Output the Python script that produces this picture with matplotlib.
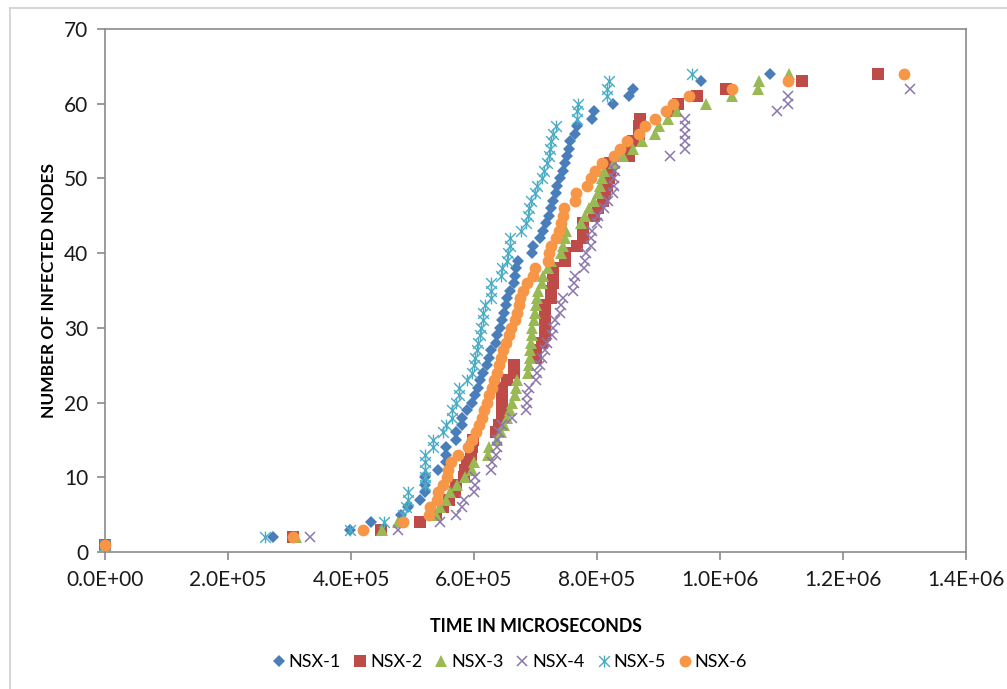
import numpy as np
import matplotlib

matplotlib.use('Agg')
import matplotlib.pyplot as plt
from matplotlib.path import Path
from matplotlib.lines import Line2D
from matplotlib.ticker import FuncFormatter, MultipleLocator

plt.rcParams['font.family'] = ['Lato', 'DejaVu Sans']

# time of infection, in units of 1e5 microseconds; node count = 1, 2, 3, ...
nsx1_t = [0, 2.73, 3.98, 4.32, 4.82, 4.92, 5.13, 5.21, 5.21, 5.21,
          5.42, 5.55, 5.55, 5.55, 5.71, 5.71, 5.81, 5.81, 5.89, 5.97,
          6.02, 6.07, 6.10, 6.14, 6.21, 6.25, 6.28, 6.35, 6.38, 6.42,
          6.46, 6.49, 6.52, 6.54, 6.59, 6.65, 6.67, 6.69, 6.71, 6.94,
          6.96, 7.08, 7.12, 7.17, 7.22, 7.25, 7.29, 7.33, 7.35, 7.40,
          7.44, 7.48, 7.52, 7.54, 7.56, 7.64, 7.67, 7.92, 7.95, 8.26,
          8.52, 8.58, 9.69, 10.82]
nsx2_t = [0, 3.05, 4.49, 5.13, 5.39, 5.50, 5.60, 5.69, 5.71, 5.83,
          5.86, 5.89, 5.95, 5.97, 5.99, 6.36, 6.41, 6.46, 6.46, 6.46,
          6.46, 6.46, 6.54, 6.65, 6.65, 7.01, 7.01, 7.11, 7.15, 7.15,
          7.15, 7.15, 7.15, 7.25, 7.25, 7.29, 7.29, 7.29, 7.48, 7.48,
          7.67, 7.77, 7.77, 7.77, 7.95, 8.02, 8.09, 8.13, 8.16, 8.19,
          8.21, 8.21, 8.52, 8.52, 8.58, 8.68, 8.68, 8.70, 9.25, 9.32,
          9.62, 10.09, 11.34, 12.57]
nsx3_t = [0, 3.10, 4.51, 4.77, 5.39, 5.45, 5.55, 5.61, 5.73, 5.86,
          5.97, 6.00, 6.23, 6.25, 6.38, 6.44, 6.49, 6.54, 6.58, 6.62,
          6.66, 6.68, 6.70, 6.88, 6.90, 6.91, 6.91, 6.92, 6.94, 6.95,
          6.98, 6.99, 7.01, 7.02, 7.04, 7.11, 7.12, 7.20, 7.25, 7.42,
          7.45, 7.48, 7.50, 7.74, 7.81, 7.87, 7.95, 8.02, 8.05, 8.08,
          8.11, 8.28, 8.42, 8.58, 8.73, 8.94, 9.00, 9.15, 9.30, 9.77,
          10.19, 10.61, 10.63, 11.13]
nsx4_t = [0, 3.33, 4.77, 5.45, 5.71, 5.81, 5.83, 6.00, 6.01, 6.02,
          6.28, 6.30, 6.36, 6.37, 6.38, 6.40, 6.45, 6.62, 6.85, 6.86,
          6.86, 6.90, 7.01, 7.03, 7.07, 7.11, 7.16, 7.18, 7.27, 7.29,
          7.31, 7.40, 7.42, 7.45, 7.61, 7.62, 7.64, 7.79, 7.80, 7.82,
          7.90, 7.91, 7.92, 8.00, 8.01, 8.11, 8.18, 8.26, 8.27, 8.28,
          8.29, 8.30, 9.19, 9.43, 9.43, 9.43, 9.43, 9.43, 10.92, 11.11,
          11.11, 13.09]
nsx5_t = [0, 2.60, 3.98, 4.53, 4.85, 4.89, 4.93, 4.93, 5.21, 5.21,
          5.21, 5.21, 5.21, 5.34, 5.34, 5.50, 5.55, 5.65, 5.65, 5.71,
          5.76, 5.76, 5.89, 5.97, 6.00, 6.02, 6.05, 6.07, 6.10, 6.12,
          6.14, 6.14, 6.18, 6.28, 6.28, 6.28, 6.44, 6.46, 6.54, 6.56,
          6.59, 6.59, 6.77, 6.85, 6.87, 6.89, 6.92, 6.99, 7.02, 7.11,
          7.14, 7.19, 7.22, 7.23, 7.25, 7.28, 7.34, 7.67, 7.67, 7.69,
          8.16, 8.17, 8.19, 9.55]
nsx6_t = [0, 3.05, 4.19, 4.85, 5.27, 5.28, 5.40, 5.42, 5.50, 5.56,
          5.58, 5.62, 5.74, 5.90, 5.97, 6.03, 6.08, 6.13, 6.17, 6.21,
          6.25, 6.30, 6.33, 6.38, 6.41, 6.44, 6.47, 6.52, 6.57, 6.60,
          6.66, 6.70, 6.73, 6.75, 6.80, 6.86, 6.96, 6.99, 7.20, 7.22,
          7.25, 7.33, 7.38, 7.41, 7.45, 7.47, 7.64, 7.66, 7.83, 7.90,
          7.97, 8.08, 8.27, 8.37, 8.48, 8.68, 8.78, 8.94, 9.13, 9.23,
          9.50, 10.20, 11.10, 12.99]

series_names = ['NSX-1', 'NSX-2', 'NSX-3', 'NSX-4', 'NSX-5', 'NSX-6']
series_times = [nsx1_t, nsx2_t, nsx3_t, nsx4_t, nsx5_t, nsx6_t]

# Excel style "star" marker: an x with a vertical bar through it
star = Path([(-0.5, -0.5), (0.5, 0.5), (-0.5, 0.5), (0.5, -0.5), (0, -0.55), (0, 0.55)],
            [Path.MOVETO, Path.LINETO, Path.MOVETO, Path.LINETO, Path.MOVETO, Path.LINETO])

styles = [
    dict(marker='D', color='#4A7EBB', ms=6.3, mew=0),
    dict(marker='s', color='#BE4B48', ms=8, mew=0),
    dict(marker='^', color='#98B954', ms=8.5, mew=0),
    dict(marker='x', color='#8B75AE', ms=7.5, mew=1.1, mfc='none'),
    dict(marker=star, color='#4BACC6', ms=8.5, mew=1.0, mfc='none'),
    dict(marker='o', color='#F79646', ms=8.5, mew=0),
]

fig = plt.figure(figsize=(10.07, 6.89), dpi=100)
ax = fig.add_axes([105 / 1007, 1 - 552 / 689, (966 - 105) / 1007, (552 - 29) / 689])

for name, t, st in zip(series_names, series_times, styles):
    x = np.array(t) * 1e5
    y = np.arange(1, len(t) + 1)
    ax.plot(x, y, ls='none', label=name, marker=st['marker'], ms=st['ms'],
            mew=st['mew'], color=st['color'], mec=st['color'],
            mfc=st.get('mfc', st['color']), clip_on=False, zorder=3)

ax.set_xlim(0, 1.4e6)
ax.set_ylim(0, 70)
ax.xaxis.set_major_locator(MultipleLocator(2e5))
ax.yaxis.set_major_locator(MultipleLocator(10))
ax.xaxis.set_major_formatter(FuncFormatter(lambda v, p: '%.1E' % v))

for s in ax.spines.values():
    s.set_color('#8a8a8a')
    s.set_linewidth(1.2)
ax.tick_params(axis='both', colors='#8a8a8a', labelcolor='#1a1a1a', labelsize=15,
               length=6, width=1.2, direction='out')
ax.tick_params(axis='x', pad=7)
ax.tick_params(axis='y', pad=6)

ax.set_xlabel('TIME IN MICROSECONDS', fontsize=12.8, fontweight='bold', labelpad=20)
ax.set_ylabel('NUMBER OF INFECTED NODES', fontsize=12.5, fontweight='bold', labelpad=5)

fig.legend(loc='center', bbox_to_anchor=(0.505, 0.039), ncol=6, frameon=False,
           fontsize=13, handletextpad=0.05, columnspacing=0.55, handlelength=1.0)

# outer chart border (only left and top edges fall inside the picture)
fig.add_artist(Line2D([10 / 1007, 10 / 1007], [0, 1 - 8 / 689], color='#d0d0d0', lw=1.2))
fig.add_artist(Line2D([10 / 1007, 1], [1 - 8 / 689, 1 - 8 / 689], color='#d0d0d0', lw=1.2))

fig.savefig('out.png', dpi=100, facecolor='w')
